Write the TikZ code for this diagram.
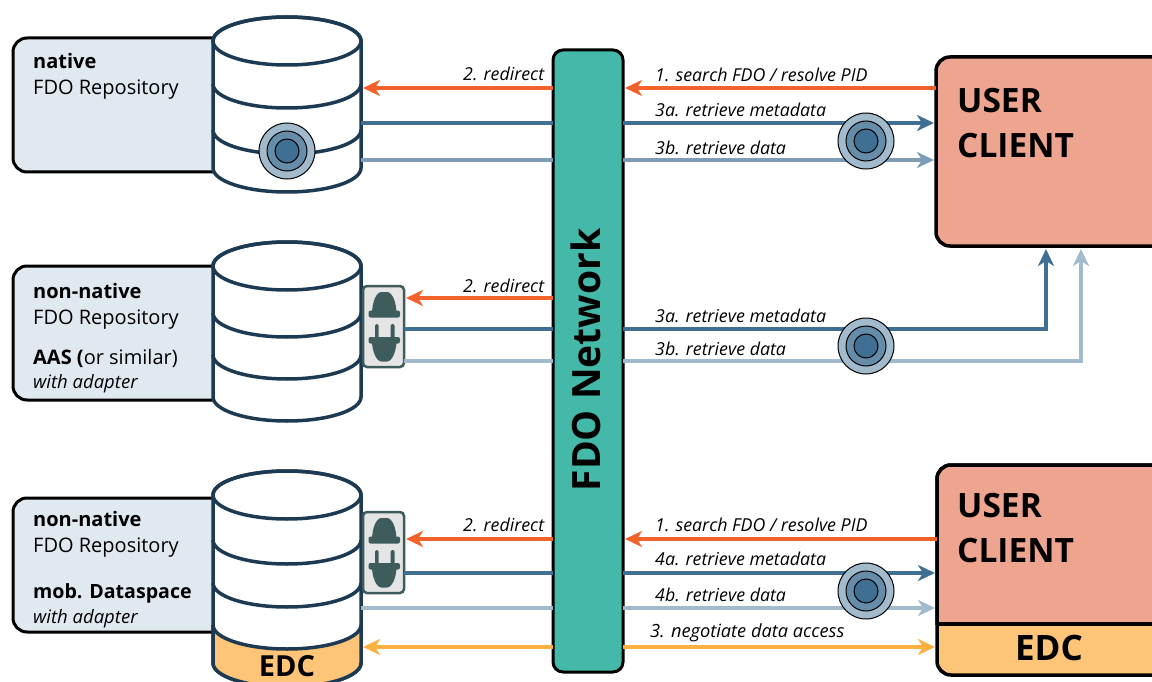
\documentclass[tikz,border=0pt]{standalone}
\usepackage{fontspec}
\setmainfont{Open Sans}
\usetikzlibrary{arrows.meta}
\definecolor{navy}{HTML}{1C3A52}
\definecolor{paneblue}{HTML}{E0E8F0}
\definecolor{netgreen}{HTML}{44B9A9}
\definecolor{salmon}{HTML}{EDA590}
\definecolor{edcorange}{HTML}{FEC477}
\definecolor{redir}{HTML}{F4622C}
\definecolor{meta}{HTML}{3F6F93}
\definecolor{datamid}{HTML}{7B9DB5}
\definecolor{tokenmid}{HTML}{658CA8}
\definecolor{datalight}{HTML}{A2BBCC}
\definecolor{negot}{HTML}{FBB040}
\definecolor{plug}{HTML}{3F5C5C}
\tikzset{
  x=1pt, y=-1pt,
  pane/.style={draw=black, line width=3pt, fill=paneblue, rounded corners=14pt, minimum width=227pt, minimum height=134pt, inner sep=0pt, outer sep=0pt},
  paneline/.style={anchor=west, inner sep=0pt, font=\fontsize{20}{20}\selectfont},
  dbbox/.style={minimum width=148pt, inner sep=0pt, outer sep=0pt},
  dbline/.style={draw=navy, line width=3.5pt},
  userbox/.style={draw=black, line width=3.5pt, fill=salmon, rounded corners=14pt, minimum width=240pt, inner sep=0pt, outer sep=0pt},
  bigtext/.style={anchor=west, inner sep=0pt, font=\fontsize{33.5}{33.5}\selectfont\bfseries},
  edctext/.style={inner sep=0pt, font=\fontsize{29}{29}\selectfont\bfseries},
  step label/.style={anchor=west, inner sep=0pt, font=\fontsize{17.8}{17.8}\selectfont\itshape},
  adapterbox/.style={draw=plug, line width=2.5pt, fill=black!10, rounded corners=4pt, minimum width=41pt, minimum height=81pt, inner sep=0pt, outer sep=0pt},
  conn/.style={line width=4pt, -{Stealth[length=17pt, width=16pt, inset=5pt]}, shorten >=2pt},
  plain conn/.style={line width=4pt},
  pics/token/.style={code={
    \draw[line width=1pt, fill=datalight] (0,0) circle [radius=28pt];
    \draw[line width=1pt, fill=tokenmid] (0,0) circle [radius=20pt];
    \draw[line width=1pt, fill=meta] (0,0) circle [radius=12pt];
  }},
  pics/plugs/.style={code={
    % socket on top, plug below
    \fill[plug, rounded corners=2pt] (-15,-16) rectangle (16.5,-9);
    \fill[plug] (-11.5,-12) .. controls (-11.5,-25) and (-7,-34.5) .. (-2,-34.5) -- (3.5,-34.5) .. controls (8.5,-34.5) and (13,-25) .. (13,-12) -- cycle;
    \fill[plug, rounded corners=1.5pt] (-8.5,-2.5) rectangle (-5,13);
    \fill[plug, rounded corners=1.5pt] (7,-2.5) rectangle (11,13);
    \fill[plug, rounded corners=2pt] (-15,10.5) rectangle (16.5,17);
    \fill[plug] (-11.5,14) .. controls (-11.5,25) and (-7,35) .. (-2,35) -- (3.5,35) .. controls (8.5,35) and (13,25) .. (13,14) -- cycle;
  }},
}
% name, centre y of the lid, y where the side ends, y values where bands leave the side
\newcommand{\dbstack}[4]{
  \node[dbbox, minimum height=#3-#2] (#1) at (287,{(#2+#3)/2}) {};
  \draw[dbline, fill=white] (#1.west |- 0,#2) -- (#1.west |- 0,#3) arc [start angle=180, end angle=0, x radius=74, y radius=24] -- (#1.east |- 0,#2) arc [start angle=0, end angle=-180, x radius=74, y radius=24] -- cycle;
  \draw[dbline] (287,#2) ellipse [x radius=74, y radius=24];
  \foreach \y in {#4} {
    \draw[dbline] (#1.west |- 0,\y) arc [start angle=180, end angle=0, x radius=74, y radius=24];
  }
}
\begin{document}
\begin{tikzpicture}
  \useasboundingbox (0,0) rectangle (1152,682);
  \foreach \rowname/\y in {rowa/88, rowb/123, rowc/160, rowd/298, rowe/329, rowf/361, rowg/539, rowh/573, rowi/608, rowj/647}
    \coordinate (\rowname) at (0,\y);

  % repositories
  \node[pane] (paneA) at (126.5,105) {};
  \node[pane] (paneB) at (126.5,333) {};
  \node[pane] (paneC) at (126.5,565) {};
  \dbstack{cylA}{41}{168}{84,130}
  \dbstack{cylB}{266}{397}{313,355}
  \dbstack{cylC}{495}{663}{540,583}
  \fill[edcorange] (213,625) arc [start angle=180, end angle=0, x radius=74, y radius=24] -- (361,663) arc [start angle=0, end angle=180, x radius=74, y radius=24] -- cycle;
  \draw[dbline] (cylC.west |- 0,625) arc [start angle=180, end angle=0, x radius=74, y radius=24];
  \draw[dbline] (213,625) -- (213,663) arc [start angle=180, end angle=0, x radius=74, y radius=24] -- (361,625);
  \node[edctext] (edcA) at (287,666) {EDC};

  \node[paneline] (nativeA) at (33,61) {\bfseries native};
  \node[paneline] (repoA) at (33,89.5) {FDO Repository};
  \node[paneline] (nativeB) at (33,291) {\bfseries non-native};
  \node[paneline] (repoB) at (33,319.5) {FDO Repository};
  \node[paneline] (kindB) at (33,358) {\textbf{AAS (}or similar)};
  \node[paneline, font=\fontsize{18.5}{18.5}\selectfont\itshape] (withB) at (33,384) {with adapter};
  \node[paneline] (nativeC) at (33,519) {\bfseries non-native};
  \node[paneline] (repoC) at (33,547.5) {FDO Repository};
  \node[paneline, font=\fontsize{19.6}{19.6}\selectfont] (kindC) at (33,593) {\bfseries mob. Dataspace};
  \node[paneline, font=\fontsize{18.5}{18.5}\selectfont\itshape] (withC) at (33,619) {with adapter};

  % adapters
  \node[adapterbox] (adaptB) at (383.5,326.5) {};
  \node[adapterbox] (adaptC) at (383.5,552.5) {};
  \pic at (adaptB) {plugs};
  \pic at (adaptC) {plugs};

  % clients and network
  \node[userbox, minimum height=189pt] (clientA) at (1056,151.5) {};
  \node[userbox, fill=edcorange, minimum height=210pt] (clientB) at (1057,570) {};
  \begin{scope}
    \clip (920,450) rectangle (1160,624);
    \node[userbox, minimum height=210pt] at (1057,570) {};
  \end{scope}
  \coordinate (split) at (0,624);
  \draw[line width=3.5pt] (clientB.west |- split) -- (clientB.east |- split);
  \node[bigtext] (userA) at (957,101) {USER};
  \node[bigtext] (nameA) at (957,146) {CLIENT};
  \node[bigtext] (userB) at (957,506) {USER};
  \node[bigtext] (nameB) at (957,551) {CLIENT};
  \node[edctext, font=\fontsize{35}{35}\selectfont\bfseries] (edcB) at (1049,648) {EDC};
  \node[draw=black, line width=3pt, fill=netgreen, rounded corners=10pt, minimum width=70pt, minimum height=622pt, inner sep=0pt, outer sep=0pt] (net) at (588,361) {};
  \node[rotate=90, inner sep=0pt, font=\fontsize{39}{39}\selectfont\bfseries] (netname) at (586,360) {FDO Network};

  % connectors
  \draw[conn, redir] (net.west |- rowa) -- (cylA.east |- rowa);
  \draw[conn, redir] (clientA.west |- rowa) -- (net.east |- rowa);
  \draw[plain conn, meta] (cylA.east |- rowb) -- (net.west |- rowb);
  \draw[conn, meta] (net.east |- rowb) -- (clientA.west |- rowb);
  \draw[plain conn, datamid] (cylA.east |- rowc) -- (net.west |- rowc);
  \draw[conn, datamid] (net.east |- rowc) -- (clientA.west |- rowc);
  \draw[conn, redir] (net.west |- rowd) -- (adaptB.east |- rowd);
  \draw[plain conn, meta] (adaptB.east |- rowe) -- (net.west |- rowe);
  \draw[conn, meta] (net.east |- rowe) -- (1046,329) -- (1046,247);
  \draw[plain conn, datalight] (adaptB.east |- rowf) -- (net.west |- rowf);
  \draw[conn, datalight] (net.east |- rowf) -- (1081,361) -- (1081,247);
  \draw[conn, redir] (net.west |- rowg) -- (adaptC.east |- rowg);
  \draw[conn, redir] (clientB.west |- rowg) -- (net.east |- rowg);
  \draw[plain conn, meta] (adaptC.east |- rowh) -- (net.west |- rowh);
  \draw[conn, meta] (net.east |- rowh) -- (clientB.west |- rowh);
  \draw[plain conn, datalight] (cylC.east |- rowi) -- (net.west |- rowi);
  \draw[conn, datalight] (net.east |- rowi) -- (clientB.west |- rowi);
  \draw[conn, negot] (net.west |- rowj) -- (cylC.east |- rowj);
  \draw[conn, negot] (net.east |- rowj) -- (clientB.west |- rowj);

  \pic at (287,151) {token};
  \pic at (866,141) {token};
  \pic at (866,346) {token};
  \pic at (866,591) {token};

  % step labels
  \node[step label] (redirA) at (463,74) {2. redirect};
  \node[step label] (searchA) at (655,75) {1. search FDO / resolve PID};
  \node[step label] (metaA) at (655,110) {3a. retrieve metadata};
  \node[step label] (dataA) at (655,148) {3b. retrieve data};
  \node[step label] (redirB) at (463,286) {2. redirect};
  \node[step label] (metaB) at (655,316) {3a. retrieve metadata};
  \node[step label] (dataB) at (655,349) {3b. retrieve data};
  \node[step label] (redirC) at (463,525) {2. redirect};
  \node[step label] (searchC) at (655,525) {1. search FDO / resolve PID};
  \node[step label] (metaC) at (655,559) {4a. retrieve metadata};
  \node[step label] (dataC) at (655,595) {4b. retrieve data};
  \node[step label, font=\fontsize{18.2}{18.2}\selectfont\itshape] (negC) at (650,633) {3. negotiate data access};
\end{tikzpicture}
\end{document}
